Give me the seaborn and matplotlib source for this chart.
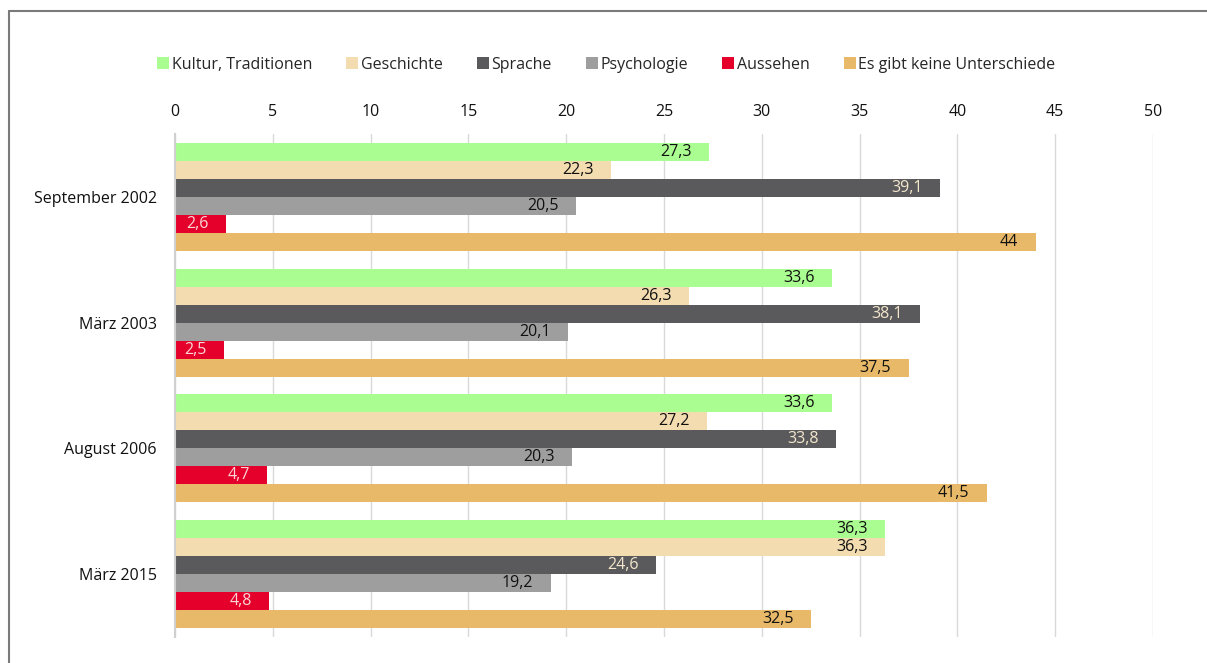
import matplotlib
matplotlib.use("Agg")
import matplotlib.pyplot as plt
import pandas as pd
import seaborn as sns
from matplotlib.lines import Line2D

# survey waves and answer categories
waves = ["September 2002", "März 2003", "August 2006", "März 2015"]
answers = ["Kultur, Traditionen", "Geschichte", "Sprache", "Psychologie",
           "Aussehen", "Es gibt keine Unterschiede"]

kultur = [27.3, 33.6, 33.6, 36.3]
geschichte = [22.3, 26.3, 27.2, 36.3]
sprache = [39.1, 38.1, 33.8, 24.6]
psychologie = [20.5, 20.1, 20.3, 19.2]
aussehen = [2.6, 2.5, 4.7, 4.8]
keine = [44, 37.5, 41.5, 32.5]

colors = ["#aafd91", "#f3dcb0", "#5a5a5c", "#9e9e9e", "#e4002b", "#e8b968"]
label_colors = ["#111111", "#111111", "#f3e6cc", "#111111", "#fbd6d6", "#111111"]

series = [kultur, geschichte, sprache, psychologie, aussehen, keine]
rows = []
for name, vals in zip(answers, series):
    for w, v in zip(waves, vals):
        rows.append({"wave": w, "answer": name, "value": v})
df = pd.DataFrame(rows)

sns.set_theme(style="white")
plt.rcParams["font.family"] = ["Open Sans", "DejaVu Sans"]

fig = plt.figure(figsize=(12.07, 6.63), dpi=100)
ax = fig.add_axes([175 / 1207, 1 - 637 / 663, (1153 - 175) / 1207, (637 - 134) / 663])

sns.barplot(data=df, y="wave", x="value", hue="answer", order=waves,
            hue_order=answers, palette=colors, orient="h", width=0.857,
            linewidth=0, saturation=1, legend=False, ax=ax)

ax.set_xlim(0, 50)
ax.set_ylim(3.5, -0.5)
ax.set_xticks(range(0, 51, 5))
ax.xaxis.tick_top()
ax.tick_params(axis="x", length=0, labelsize=11.5, pad=10, colors="#111111")
ax.tick_params(axis="y", length=0, labelsize=11.5, pad=13, colors="#111111")
ax.set_xlabel("")
ax.set_ylabel("")
ax.grid(axis="x", color="#d9d9d9", linewidth=1)
ax.set_axisbelow(True)
for s in ["top", "right", "bottom"]:
    ax.spines[s].set_visible(False)
ax.spines["left"].set_color("#d0d0d0")
ax.spines["left"].set_linewidth(1.5)

# value labels inside the bar ends
for cont, lc in zip(ax.containers, label_colors):
    for p in cont:
        v = p.get_width()
        ax.annotate(f"{v:g}".replace(".", ","),
                    (p.get_x() + v, p.get_y() + p.get_height() / 2),
                    xytext=(-12.5, 0), textcoords="offset points",
                    ha="right", va="center", fontsize=11.5, color=lc)

handles = [Line2D([0], [0], marker="s", linestyle="", markersize=9,
                  markerfacecolor=c, markeredgewidth=0) for c in colors]
fig.legend(handles, answers, loc="center", bbox_to_anchor=(606 / 1207, 1 - 65 / 663),
           ncol=6, frameon=False, fontsize=11.5, handletextpad=0.15,
           columnspacing=2.1, handlelength=0.8)

# frame lines of the original figure box
fig.add_artist(Line2D([9 / 1207, 1], [1 - 11 / 663, 1 - 11 / 663],
                      color="#7a7a7a", linewidth=1.5))
fig.add_artist(Line2D([9 / 1207, 9 / 1207], [0, 1 - 11 / 663],
                      color="#7a7a7a", linewidth=1.5))

fig.savefig("out.png", dpi=100)
